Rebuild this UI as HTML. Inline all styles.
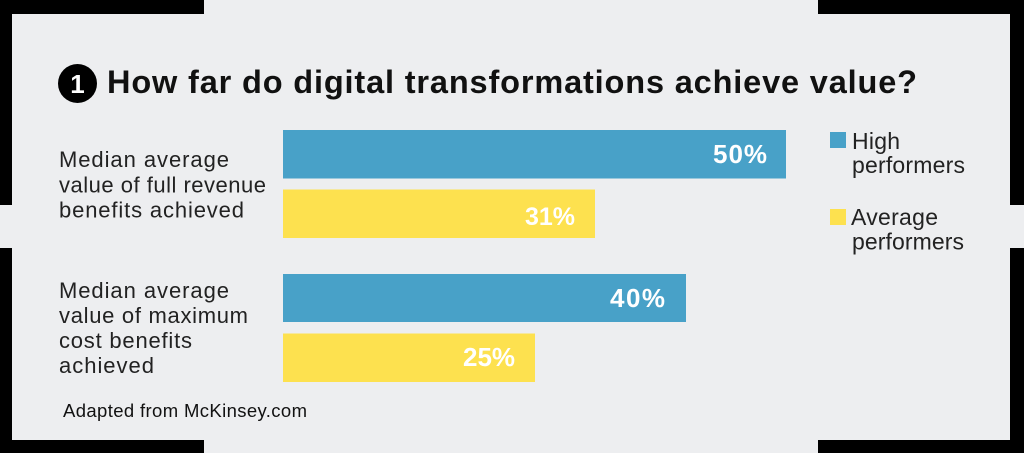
<!DOCTYPE html>
<html>
<head>
<meta charset="utf-8">
<style>
  html,body{margin:0;padding:0;background:#edeef0;}
  svg{display:block;}
  text{font-family:"Liberation Sans",Arial,sans-serif;}
</style>
</head>
<body>
<svg width="1024" height="453" viewBox="0 0 1024 453" xmlns="http://www.w3.org/2000/svg">
  <rect x="0" y="0" width="1024" height="453" fill="#edeef0"/>
  <!-- corner brackets -->
  <rect x="0" y="0" width="204" height="14" fill="#000"/>
  <rect x="0" y="0" width="12" height="205" fill="#000"/>
  <rect x="0" y="248" width="12" height="205" fill="#000"/>
  <rect x="0" y="440" width="204" height="13" fill="#000"/>
  <rect x="818" y="0" width="206" height="14" fill="#000"/>
  <rect x="1010" y="0" width="14" height="205" fill="#000"/>
  <rect x="1010" y="248" width="14" height="205" fill="#000"/>
  <rect x="818" y="440" width="206" height="13" fill="#000"/>

  <!-- title -->
  <circle cx="77.5" cy="83.5" r="19.5" fill="#000"/>
  <text x="77.5" y="93" font-size="26" font-weight="bold" fill="#fff" text-anchor="middle">1</text>
  <text x="107" y="93" font-size="32.5" font-weight="bold" fill="#111" textLength="810" lengthAdjust="spacing">How far do digital transformations achieve value?</text>

  <!-- category labels -->
  <g font-size="22" fill="#222">
    <text x="59" y="167" textLength="170" lengthAdjust="spacing">Median average</text>
    <text x="59" y="192.5" textLength="207" lengthAdjust="spacing">value of full revenue</text>
    <text x="59" y="217.5" textLength="185" lengthAdjust="spacing">benefits achieved</text>

    <text x="59" y="298" textLength="170" lengthAdjust="spacing">Median average</text>
    <text x="59" y="323" textLength="189" lengthAdjust="spacing">value of maximum</text>
    <text x="59" y="348" textLength="133" lengthAdjust="spacing">cost benefits</text>
    <text x="59" y="373" textLength="95" lengthAdjust="spacing">achieved</text>
  </g>

  <!-- bars -->
  <rect x="283" y="130" width="503" height="48.5" fill="#48a1c8"/>
  <rect x="283" y="189.5" width="312" height="48.5" fill="#fde14f"/>
  <rect x="283" y="274" width="403" height="48" fill="#48a1c8"/>
  <rect x="283" y="333.5" width="252" height="48.5" fill="#fde14f"/>

  <g font-size="26" font-weight="bold" fill="#fff">
    <text x="713" y="163" textLength="54" lengthAdjust="spacing">50%</text>
    <text x="575" y="225" font-size="25" text-anchor="end">31%</text>
    <text x="610" y="307" textLength="55" lengthAdjust="spacing">40%</text>
    <text x="463" y="366" textLength="52" lengthAdjust="spacing">25%</text>
  </g>

  <!-- legend -->
  <rect x="830" y="132" width="16" height="16" fill="#48a1c8"/>
  <rect x="830" y="209" width="16" height="16" fill="#fde14f"/>
  <g font-size="23" fill="#222">
    <text x="852" y="149" textLength="48" lengthAdjust="spacing">High</text>
    <text x="852" y="173" textLength="113" lengthAdjust="spacing">performers</text>
    <text x="851" y="225" textLength="87" lengthAdjust="spacing">Average</text>
    <text x="852" y="249.5" textLength="112" lengthAdjust="spacing">performers</text>
  </g>

  <!-- source -->
  <text x="63" y="417" font-size="18.5" fill="#111" textLength="244" lengthAdjust="spacing">Adapted from McKinsey.com</text>
</svg>
</body>
</html>
